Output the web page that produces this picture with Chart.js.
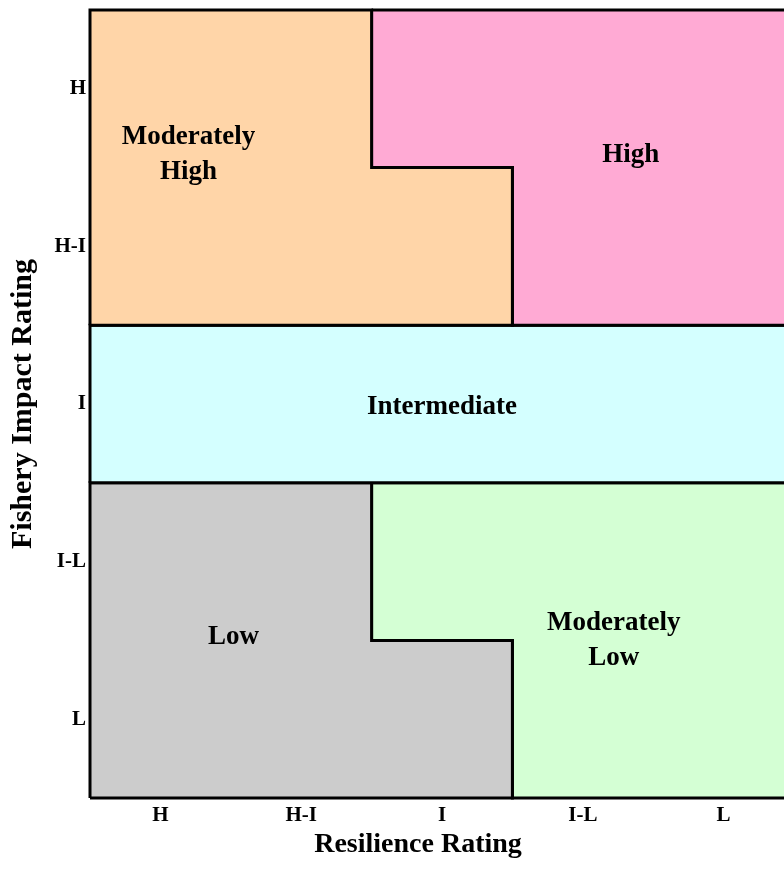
<!DOCTYPE html>
<html>
<head>
<meta charset="utf-8">
<script src="https://cdn.jsdelivr.net/npm/chart.js@4/dist/chart.umd.min.js"></script>
<style>
  html, body { margin: 0; padding: 0; background: #fff; overflow: hidden; }
  #wrap { width: 800px; height: 869px; }
</style>
</head>
<body>
<div id="wrap"><canvas id="riskMatrix"></canvas></div>
<script>
// ratings on both axes (x left->right, y bottom->top)
const resilienceLabels = ['H', 'H-I', 'I', 'I-L', 'L'];
const impactLabels = ['L', 'I-L', 'I', 'H-I', 'H'];

// region outlines, in rating units (one unit per rating class)
const modHighX = [0, 0, 2, 2, 3, 3, 0];
const modHighY = [3, 5, 5, 4, 4, 3, 3];
const highX = [2, 5, 5, 3, 3, 2, 2];
const highY = [5, 5, 3, 3, 4, 4, 5];
const interX = [0, 5, 5, 0, 0];
const interY = [2, 2, 3, 3, 2];
const lowX = [0, 0, 2, 2, 3, 3, 0];
const lowY = [0, 2, 2, 1, 1, 0, 0];
const modLowX = [2, 5, 5, 3, 3, 2, 2];
const modLowY = [2, 2, 0, 0, 1, 1, 2];

const regionNames = ['Moderately\nHigh', 'High', 'Intermediate', 'Low', 'Moderately\nLow'];
const regionLabelX = [0.7, 3.84, 2.5, 1.02, 3.72];
const regionLabelY = [4.08, 4.08, 2.48, 1.02, 1.0];
const regionColors = ['#FFD5A8', '#FFAAD4', '#D4FFFF', '#CCCCCC', '#D4FFD4'];

const xTitle = 'Resilience Rating';

const toPoints = (xs, ys) => xs.map((x, i) => ({ x: x, y: ys[i] }));
const outlines = [
    toPoints(modHighX, modHighY),
    toPoints(highX, highY),
    toPoints(interX, interY),
    toPoints(lowX, lowY),
    toPoints(modLowX, modLowY)
];

const serif = '"Liberation Serif", "Times New Roman", serif';

// region names in the middle of each zone + the x axis title
const regionLabelPlugin = {
    id: 'regionLabels',
    afterDatasetsDraw(chart) {
        const ctx = chart.ctx;
        const xs = chart.scales.x;
        const ys = chart.scales.y;
        ctx.save();
        ctx.fillStyle = '#000';
        ctx.font = 'bold 27px ' + serif;
        ctx.textAlign = 'center';
        ctx.textBaseline = 'middle';
        regionNames.forEach((name, i) => {
            const lines = name.split('\n');
            const px = xs.getPixelForValue(regionLabelX[i]);
            const py = ys.getPixelForValue(regionLabelY[i]);
            const lh = 35;
            lines.forEach((line, j) => {
                ctx.fillText(line, px, py + (j - (lines.length - 1) / 2) * lh);
            });
        });
        // x title sits a bit left of the plot centre in the original
        ctx.font = 'bold 28px ' + serif;
        ctx.textBaseline = 'alphabetic';
        ctx.fillText(xTitle, 418, 852);
        ctx.restore();
    }
};

new Chart(document.getElementById('riskMatrix'), {
    type: 'scatter',
    data: {
        datasets: outlines.map((pts, i) => ({
            label: regionNames[i],
            data: pts,
            showLine: true,
            fill: 'shape',
            backgroundColor: regionColors[i],
            borderColor: '#000',
            borderWidth: 3,
            pointRadius: 0,
            tension: 0,
            clip: false
        }))
    },
    options: {
        responsive: true,
        maintainAspectRatio: false,
        animation: false,
        layout: { padding: { top: 10, right: 6, left: 0, bottom: 0 } },
        plugins: {
            legend: { display: false },
            tooltip: { enabled: false }
        },
        scales: {
            x: {
                type: 'linear',
                min: 0,
                max: 5,
                grid: { display: false, drawTicks: false },
                border: { display: false },
                afterBuildTicks: (scale) => {
                    scale.ticks = resilienceLabels.map((_, i) => ({ value: i + 0.5 }));
                },
                afterFit: (scale) => { scale.height = 71; },
                ticks: {
                    padding: 5,
                    color: '#000',
                    maxRotation: 0,
                    autoSkip: false,
                    font: { family: serif, size: 21, weight: 'bold' },
                    callback: (v, i) => resilienceLabels[i]
                }
            },
            y: {
                type: 'linear',
                min: 0,
                max: 5,
                grid: { display: false, drawTicks: false },
                border: { display: false },
                afterBuildTicks: (scale) => {
                    scale.ticks = impactLabels.map((_, i) => ({ value: i + 0.5 }));
                },
                afterFit: (scale) => {
                    scale.width = 90;
                    // labels never touch the ends, so no extra room needed
                    scale.paddingTop = 0;
                    scale.paddingBottom = 0;
                },
                ticks: {
                    padding: 4,
                    color: '#000',
                    autoSkip: false,
                    font: { family: serif, size: 21, weight: 'bold' },
                    callback: (v, i) => impactLabels[i]
                },
                title: {
                    display: true,
                    text: 'Fishery Impact Rating',
                    color: '#000',
                    padding: { top: 5, bottom: 0 },
                    font: { family: serif, size: 30, weight: 'bold' }
                }
            }
        }
    },
    plugins: [regionLabelPlugin]
});
</script>
</body>
</html>
